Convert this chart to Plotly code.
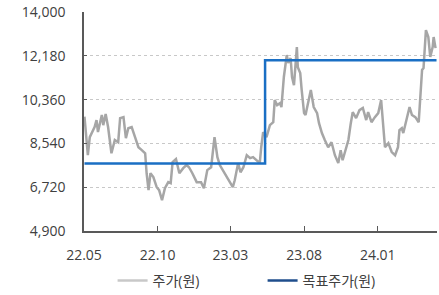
import plotly.graph_objects as go

dates = ["2022-05-02","2022-05-09","2022-05-13","2022-05-23","2022-05-27","2022-05-30","2022-06-07","2022-06-10","2022-06-15","2022-06-20",
"2022-06-27","2022-07-04","2022-07-11","2022-07-15","2022-07-22","2022-07-27","2022-08-01","2022-08-08","2022-08-15","2022-08-22",
"2022-08-29","2022-09-05","2022-09-08","2022-09-12","2022-09-16","2022-09-22","2022-09-29","2022-10-04","2022-10-10","2022-10-16",
"2022-10-23","2022-10-28","2022-11-01","2022-11-08","2022-11-15","2022-11-23","2022-11-30","2022-12-05","2022-12-12","2022-12-21",
"2022-12-30","2023-01-05","2023-01-12","2023-01-20","2023-01-27","2023-02-02","2023-02-07","2023-02-17","2023-02-28","2023-03-06",
"2023-03-10","2023-03-17","2023-03-22","2023-03-28","2023-04-04","2023-04-11","2023-04-17","2023-04-24","2023-05-01","2023-05-04",
"2023-05-08","2023-05-15","2023-05-22","2023-05-29","2023-06-01","2023-06-06","2023-06-12","2023-06-15","2023-06-20","2023-06-26",
"2023-06-29","2023-07-04","2023-07-07","2023-07-11","2023-07-14","2023-07-17","2023-07-19","2023-07-24","2023-07-27","2023-08-01",
"2023-08-04","2023-08-10","2023-08-15","2023-08-21","2023-08-28","2023-09-01","2023-09-07","2023-09-13","2023-09-20","2023-09-27",
"2023-10-04","2023-10-11","2023-10-16","2023-10-20","2023-10-27","2023-11-01","2023-11-06","2023-11-10","2023-11-17","2023-11-24",
"2023-12-01","2023-12-08","2023-12-12","2023-12-19","2023-12-26","2024-01-02","2024-01-08","2024-01-12","2024-01-16","2024-01-23",
"2024-01-30","2024-02-06","2024-02-12","2024-02-15","2024-02-20","2024-02-23","2024-02-29","2024-03-07","2024-03-12","2024-03-19",
"2024-03-26","2024-03-29","2024-04-02","2024-04-05","2024-04-10","2024-04-15","2024-04-19","2024-04-24","2024-04-26","2024-04-30"]

price = [9650,8050,8800,9220,9510,9010,9720,9300,9760,9220,
8130,8680,8590,9590,9630,8760,9170,9220,8800,8380,
8260,8130,7300,6600,7300,7140,6720,6600,6180,6680,
6930,6890,7760,7890,7300,7510,7640,7550,7300,6930,
6930,6680,7430,7550,8800,7970,7640,7300,6890,6720,
7010,7720,7340,7550,8050,7930,7970,7840,7720,8380,
9010,8800,9300,9420,10340,10130,10210,10050,11300,12210,
11880,12090,11300,10960,12000,12540,11710,11460,10760,9800,
9720,10340,10760,10050,9800,9380,8970,8680,8380,8590,
8050,7720,8260,7840,8380,8680,9380,9840,9590,9920,
10010,9510,9840,9420,9630,9800,10340,9220,8380,8550,
8180,8050,8380,9090,9170,8970,9510,10050,9720,9630,
9420,10460,11590,11670,13250,12960,12130,12540,12960,12500]

target_dates = ["2022-05-02", "2023-05-12", "2024-05-02"]
target = [7700, 12000, 12000]

y_ticks = [4900, 6720, 8540, 10360, 12180, 14000]
x_tickvals = ["2022-05-01", "2022-10-01", "2023-03-01", "2023-08-01", "2024-01-01"]
x_ticktext = ["22.05", "22.10", "23.03", "23.08", "24.01"]

FONT = "Open Sans, Noto Sans CJK KR, sans-serif"

fig = go.Figure()
fig.add_trace(go.Scatter(x=dates, y=price, mode="lines", line=dict(color="#A6A6A6", width=2.5),
                         showlegend=False, hoverinfo="skip"))
fig.add_trace(go.Scatter(x=target_dates, y=target, mode="lines", line=dict(color="#1A6FC4", width=2.5, shape="hv"),
                         showlegend=False, hoverinfo="skip"))
# legend entries
fig.add_trace(go.Scatter(x=[None], y=[None], mode="lines", line=dict(color="#C8C8C8", width=2.5), name="주가(원)"))
fig.add_trace(go.Scatter(x=[None], y=[None], mode="lines", line=dict(color="#1F4E8C", width=2.5), name="목표주가(원)"))

fig.update_layout(
    width=439, height=295,
    margin=dict(l=84, r=2, t=12, b=64, autoexpand=False),
    paper_bgcolor="white", plot_bgcolor="white",
    font=dict(family=FONT, size=14, color="#404040"),
    legend=dict(orientation="h", x=0.081, xanchor="left", yref="container", y=0.0475, yanchor="middle",
                font=dict(size=14, color="#404040"), entrywidth=105, entrywidthmode="pixels",
                tracegroupgap=0),
    xaxis=dict(type="date", range=["2022-05-01", "2024-05-03"], tickmode="array",
               tickvals=x_tickvals, ticktext=x_ticktext, showgrid=False, automargin=False,
               showline=True, linecolor="#595959", linewidth=1.5,
               ticks="inside", ticklen=5, tickcolor="#595959", ticklabelstandoff=10),
    yaxis=dict(range=[4900, 14000], tickmode="array", tickvals=y_ticks, automargin=False,
               tickformat=",d", showgrid=True, gridcolor="#C8C8C8", griddash="dot", gridwidth=1,
               showline=True, linecolor="#595959", linewidth=1.5, zeroline=False, ticklabeloverflow="allow",
               ticks="inside", ticklen=3, tickcolor="#595959", ticklabelstandoff=14),
)

# remove the page's default body margin so the figure sits at the window's corner
fig.write_html("out.html", config={"displayModeBar": False},
               post_script="document.body.style.margin='0';")
